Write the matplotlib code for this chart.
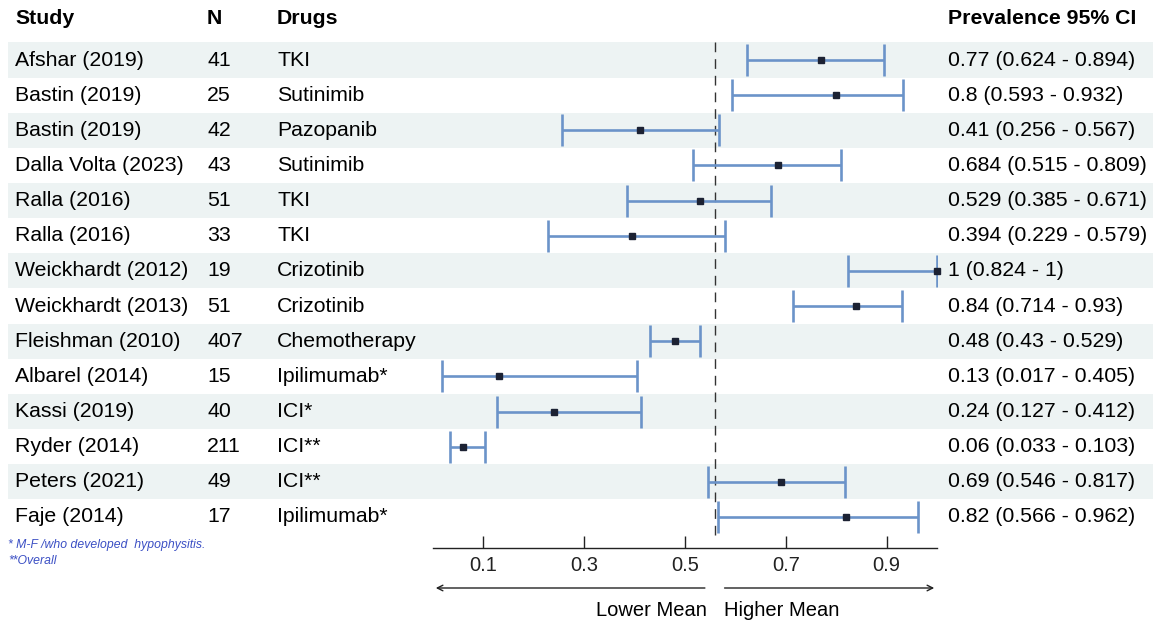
import numpy as np
import matplotlib
matplotlib.use('Agg')
import matplotlib.pyplot as plt

# study table, top to bottom
studies = ['Afshar (2019)', 'Bastin (2019)', 'Bastin (2019)', 'Dalla Volta (2023)',
           'Ralla (2016)', 'Ralla (2016)', 'Weickhardt (2012)', 'Weickhardt (2013)',
           'Fleishman (2010)', 'Albarel (2014)', 'Kassi (2019)', 'Ryder (2014)',
           'Peters (2021)', 'Faje (2014)']
n_pat = [41, 25, 42, 43, 51, 33, 19, 51, 407, 15, 40, 211, 49, 17]
drugs = ['TKI', 'Sutinimib', 'Pazopanib', 'Sutinimib', 'TKI', 'TKI', 'Crizotinib',
         'Crizotinib', 'Chemotherapy', 'Ipilimumab*', 'ICI*', 'ICI**', 'ICI**',
         'Ipilimumab*']
prev = [0.77, 0.8, 0.41, 0.684, 0.529, 0.394, 1, 0.84, 0.48, 0.13, 0.24, 0.06, 0.69, 0.82]
ci_lo = [0.624, 0.593, 0.256, 0.515, 0.385, 0.229, 0.824, 0.714, 0.43, 0.017, 0.127,
         0.033, 0.546, 0.566]
ci_hi = [0.894, 0.932, 0.567, 0.809, 0.671, 0.579, 1, 0.93, 0.529, 0.405, 0.412,
         0.103, 0.817, 0.962]
ref_line = 0.56
xticks = [0.1, 0.3, 0.5, 0.7, 0.9]

plt.rcParams['font.family'] = ['Liberation Sans', 'DejaVu Sans']

W, H = 1153, 623
fig = plt.figure(figsize=(W / 100, H / 100), dpi=100)

rows = np.arange(len(studies))
row_px = 35.15
y_top = -60 / row_px          # axes top at pixel 0
y_bot = (548 - 60) / row_px   # axes bottom (axis line) at pixel 548
ax_h = 548 / H

# background axes for the table and stripes
bg = fig.add_axes([8 / W, 1 - ax_h, 1 - 8 / W, ax_h])
bg.set_xlim(0, 1)
bg.set_ylim(y_bot, y_top)
bg.axis('off')
for i in rows:
    if i % 2 == 0:
        bg.axhspan(i - 0.5, i + 0.5, color='#edf3f3', lw=0, zorder=0)

fs = 15.3
tr = bg.get_yaxis_transform()
def fx(px):
    return (px - 8) / (W - 8)

hy = (18 - 60) / row_px
for px, label in [(15, 'Study'), (207, 'N'), (277, 'Drugs'), (948, 'Prevalence 95% CI')]:
    bg.text(fx(px), hy, label, transform=tr, fontsize=fs, fontweight='bold',
            va='center', ha='left')

for i in rows:
    bg.text(fx(15), i, studies[i], transform=tr, fontsize=fs, va='center')
    bg.text(fx(207), i, str(n_pat[i]), transform=tr, fontsize=fs, va='center')
    bg.text(fx(277), i, drugs[i], transform=tr, fontsize=fs, va='center')
    bg.text(fx(948), i, f"{prev[i]:g} ({ci_lo[i]:g} - {ci_hi[i]:g})", transform=tr,
            fontsize=fs, va='center')

# footnotes
fig.text(8 / W, 1 - 545 / H, '* M-F /who developed  hypophysitis.', fontsize=8.8,
         style='italic', color='#3b4fc4', va='center')
fig.text(8 / W, 1 - 561 / H, '**Overall', fontsize=8.8, style='italic',
         color='#3b4fc4', va='center')

# forest plot axes
ax = fig.add_axes([433 / W, 1 - ax_h, (937 - 433) / W, ax_h])
ax.patch.set_alpha(0)
ax.set_xlim(0, 1)
ax.set_ylim(y_bot, y_top)

prev_a = np.array(prev)
err = [prev_a - np.array(ci_lo), np.array(ci_hi) - prev_a]
ax.errorbar(prev_a, rows, xerr=err, fmt='none', ecolor='#6b93c9', elinewidth=1.9,
            capsize=11.5, capthick=1.9, zorder=3)
ax.plot(prev_a, rows, 's', color='#1c2233', ms=4.5, zorder=4, clip_on=False)
ax.vlines(ref_line, -0.5, 13.5, colors='#333333', linestyles=(0, (7, 5)), lw=1, zorder=2)

for s in ['top', 'right', 'left']:
    ax.spines[s].set_visible(False)
ax.spines['bottom'].set_linewidth(1)
ax.spines['bottom'].set_color('#222222')
ax.set_yticks([])
ax.set_xticks(xticks)
ax.set_xticklabels([f"{t:g}" for t in xticks])
ax.tick_params(axis='x', direction='in', length=9, width=1, pad=6, labelsize=14.5,
               colors='#222222')

xt = ax.get_xaxis_transform()
ay = -40 / 548
ax.annotate('', xy=(0, ay), xytext=(0.545, ay), xycoords=xt, textcoords=xt,
            arrowprops=dict(arrowstyle='->', lw=1, color='#222222'))
ax.annotate('', xy=(1, ay), xytext=(0.573, ay), xycoords=xt, textcoords=xt,
            arrowprops=dict(arrowstyle='->', lw=1, color='#222222'))
ty = -62 / 548
ax.text(0.543, ty, 'Lower Mean', transform=xt, ha='right', va='center', fontsize=14.5)
ax.text(0.577, ty, 'Higher Mean', transform=xt, ha='left', va='center', fontsize=14.5)

fig.savefig('out.png', dpi=100)
